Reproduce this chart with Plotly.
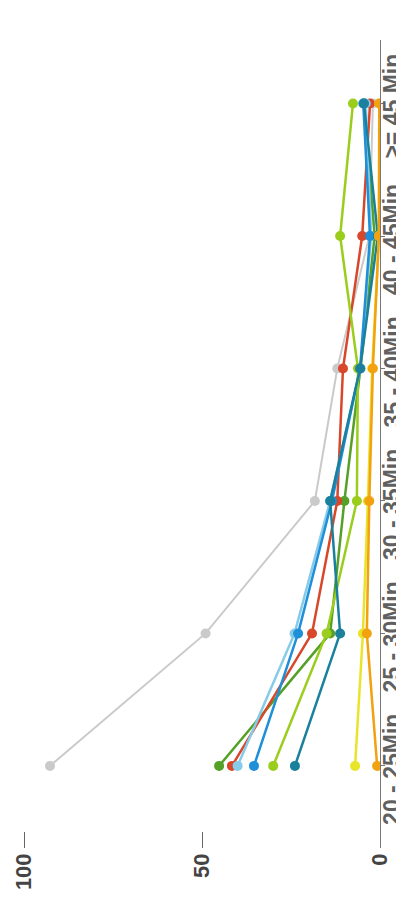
import plotly.graph_objects as go

# Time bands (category axis) and share of trips per series
categories = ['20 - 25Min.', '25 - 30Min.', '30 - 35Min.', '35 - 40Min.', '40 - 45Min.', '>= 45 Min.']

gray_vals       = [92.7, 49.0, 18.3, 12.0, 3.0, 2.0]
dark_green_vals = [45.2, 14.0, 10.0, 5.5, 1.5, 4.5]
red_vals        = [41.6, 19.1, 12.0, 10.4, 5.0, 2.8]
light_blue_vals = [40.0, 24.0, 14.0, 5.5, 2.5, 4.0]
blue_vals       = [35.4, 23.0, 13.5, 5.6, 2.8, 4.7]
lime_vals       = [30.0, 15.0, 6.5, 6.2, 11.2, 7.6]
teal_vals       = [23.9, 11.2, 14.0, 5.6, 0.6, 4.5]
yellow_vals     = [7.0, 4.8, 3.4, 2.2, 0.3, 0.2]
orange_vals     = [0.8, 3.7, 3.0, 2.0, 0.3, 0.2]

series = [
    ('Gray', gray_vals, '#cacaca', 2),
    ('Dark green', dark_green_vals, '#55a026', 2.5),
    ('Red', red_vals, '#d9472b', 2.5),
    ('Light blue', light_blue_vals, '#86cbe9', 2.5),
    ('Blue', blue_vals, '#1f8fd8', 2.5),
    ('Lime', lime_vals, '#9acd1c', 2.5),
    ('Teal', teal_vals, '#1a809c', 2.5),
    ('Yellow', yellow_vals, '#e8e42a', 2.5),
    ('Orange', orange_vals, '#f2a10f', 2.5),
]

fig = go.Figure()
for name, vals, color, lw in series:
    fig.add_trace(go.Scatter(
        x=vals, y=categories, name=name,
        mode='lines+markers',
        line=dict(color=color, width=lw),
        marker=dict(color=color, size=10),
    ))

# category labels sit tight against the right-hand axis, rotated
for cat in categories:
    fig.add_annotation(
        x=1, xref='paper', y=cat, yref='y',
        text=cat, textangle=-90, showarrow=False,
        xanchor='left', xshift=-3,
        font=dict(family='Liberation Sans, Arial, sans-serif', size=23,
                  color='#606060', weight='bold'),
    )

# page body has an 8px margin, so the figure is a bit smaller than the window
fig.update_layout(
    width=396, height=891,
    margin=dict(l=0, r=24, t=32, b=51),
    paper_bgcolor='white', plot_bgcolor='white',
    showlegend=False,
    font=dict(family='Liberation Sans, Arial, sans-serif', color='#555'),
)
fig.update_xaxes(
    range=[104.5, 0], dtick=50, tickangle=-90, automargin=False,
    showgrid=False, zeroline=False, showline=False,
    ticks='inside', ticklen=16, tickcolor='#666', tickwidth=1,
    tickfont=dict(size=22, color='#444', weight='bold'),
)
fig.update_yaxes(
    type='category', categoryarray=categories, automargin=False,
    range=[-0.62, 5.48], side='right', showticklabels=False,
    showgrid=False, zeroline=False,
    showline=True, linecolor='#777', linewidth=1,
    ticks='outside', ticklen=4, tickcolor='#777',
)

fig.write_html("out.html")
